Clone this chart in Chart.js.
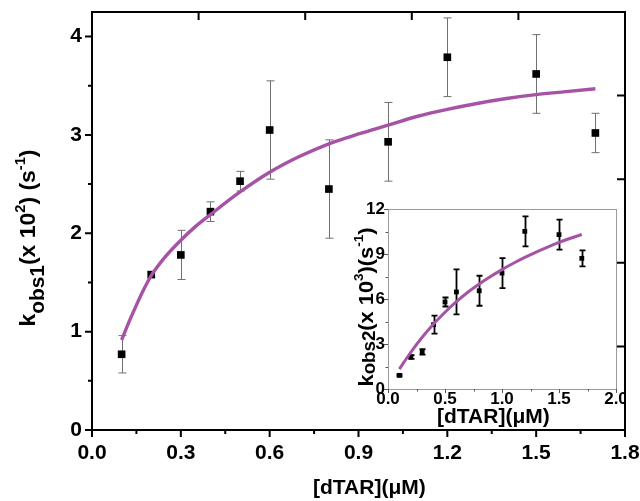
<!DOCTYPE html>
<html>
<head>
<meta charset="utf-8">
<script src="https://cdn.jsdelivr.net/npm/chart.js@4/dist/chart.umd.min.js"></script>
<style>
  html, body { margin: 0; padding: 0; background: #fff; }
  #wrap { position: relative; width: 640px; height: 501px; overflow: hidden; }
  #inset { position: absolute; left: 330px; top: 195px; z-index: 1; }
  #main { position: absolute; left: 0; top: 0; z-index: 2; }
</style>
</head>
<body>
<div id="wrap">
  <canvas id="inset" width="295" height="235"></canvas>
  <canvas id="main" width="640" height="501"></canvas>
</div>
<script>
// [dTAR] concentrations (µM)
const concentration = [0.1, 0.2, 0.3, 0.4, 0.5, 0.6, 0.8, 1.0, 1.2, 1.5, 1.7];

// k_obs1 (x 10^2 s^-1) with standard deviations
const kobs1    = [0.77, 1.58, 1.78, 2.22, 2.53, 3.05, 2.45, 2.93, 3.79, 3.62, 3.02];
const kobs1Err = [0.19, 0.03, 0.25, 0.10, 0.10, 0.50, 0.50, 0.40, 0.40, 0.40, 0.20];

// hyperbolic fit through k_obs1
const fit1X = [0.1, 0.125, 0.15, 0.175, 0.2, 0.25, 0.3, 0.35, 0.4, 0.5, 0.6, 0.7, 0.8, 0.9, 1.0, 1.1, 1.2, 1.3, 1.4, 1.5, 1.6, 1.7];
const fit1Y = [0.915, 1.10, 1.27, 1.43, 1.57, 1.77, 1.93, 2.07, 2.19, 2.42, 2.62, 2.78, 2.91, 3.01, 3.10, 3.19, 3.26, 3.32, 3.37, 3.41, 3.44, 3.47];

// k_obs2 (x 10^3 s^-1) with standard deviations
const kobs2    = [0.91, 2.13, 2.47, 4.29, 5.80, 6.47, 6.55, 7.73, 10.51, 10.29, 8.71];
const kobs2Err = [0.06, 0.12, 0.18, 0.60, 0.30, 1.50, 1.00, 1.00, 1.00, 1.00, 0.53];

// hyperbolic fit through k_obs2
const fit2X = [0.1, 0.2, 0.3, 0.4, 0.5, 0.6, 0.7, 0.8, 0.9, 1.0, 1.1, 1.2, 1.3, 1.4, 1.5, 1.6, 1.7];
const fit2Y = [1.33, 2.45, 3.45, 4.33, 5.12, 5.82, 6.45, 7.00, 7.50, 7.96, 8.38, 8.77, 9.13, 9.46, 9.77, 10.05, 10.30];

// axis ticks
const mainXTicks  = [0, 0.3, 0.6, 0.9, 1.2, 1.5, 1.8];
const mainXMinor  = [0.15, 0.45, 0.75, 1.05, 1.35, 1.65];
const mainYTicks  = [0, 1, 2, 3, 4];
const mainYMinor  = [0.5, 1.5, 2.5, 3.5];
const mainTopTicks   = [0.36, 0.72, 1.08, 1.44];
const mainRightTicks = [0.85, 1.7, 2.55, 3.4];
const insetXTicks = [0, 0.5, 1.0, 1.5, 2.0];
const insetXMinor = [0.25, 0.75, 1.25, 1.75];
const insetYTicks = [0, 3, 6, 9, 12];
const insetYMinor = [1.5, 4.5, 7.5, 10.5];

const FIT_COLOR = '#a653a6';
const FONT = '"Liberation Sans", Arial, Helvetica, sans-serif';
Chart.defaults.font.family = FONT;

function pts(xs, ys) { return xs.map((x, i) => ({ x: x, y: ys[i] })); }

function drawErrorBars(chart, ys, errs, style) {
  const ctx = chart.ctx, xs = chart.scales.x, yS = chart.scales.y;
  ctx.save();
  ctx.strokeStyle = style.color;
  ctx.lineWidth = style.width;
  concentration.forEach((c, i) => {
    const px = Math.round(xs.getPixelForValue(c)) + 0.5;
    const top = yS.getPixelForValue(ys[i] + errs[i]);
    const bot = yS.getPixelForValue(ys[i] - errs[i]);
    ctx.beginPath();
    ctx.moveTo(px, top); ctx.lineTo(px, bot);
    ctx.moveTo(px - style.cap, top); ctx.lineTo(px + style.cap, top);
    ctx.moveTo(px - style.cap, bot); ctx.lineTo(px + style.cap, bot);
    ctx.stroke();
  });
  ctx.restore();
}

// text run with sub/superscripts; parts: [text, size, baselineShift]
function drawRich(ctx, parts, x, y, rotate, targetLen, align) {
  ctx.save();
  let total = 0;
  const widths = parts.map(p => {
    ctx.font = 'bold ' + p[1] + 'px ' + FONT;
    const w = ctx.measureText(p[0]).width;
    total += w;
    return w;
  });
  const stretch = targetLen ? targetLen / total : 1;
  ctx.translate(x, y);
  if (rotate) ctx.rotate(-Math.PI / 2);
  ctx.scale(stretch, 1);
  ctx.fillStyle = '#000';
  ctx.textBaseline = 'alphabetic';
  ctx.textAlign = 'left';
  let cur = align === 'left' ? 0 : -total / 2;
  parts.forEach((p, i) => {
    ctx.font = 'bold ' + p[1] + 'px ' + FONT;
    ctx.fillText(p[0], cur, p[2]);
    cur += widths[i];
  });
  ctx.restore();
}

function tickLine(ctx, x1, y1, x2, y2) {
  ctx.moveTo(x1, y1); ctx.lineTo(x2, y2);
}

const mainDecor = {
  id: 'mainDecor',
  beforeDatasetsDraw(chart) {
    drawErrorBars(chart, kobs1, kobs1Err, { color: '#707070', width: 1, cap: 4 });
  },
  afterDraw(chart) {
    const ctx = chart.ctx, a = chart.chartArea, xs = chart.scales.x, ys = chart.scales.y;
    ctx.save();
    ctx.strokeStyle = '#000';
    ctx.lineWidth = 2;
    ctx.strokeRect(a.left, a.top, a.right - a.left, a.bottom - a.top);
    ctx.beginPath();
    mainXTicks.forEach(v => { const p = xs.getPixelForValue(v); tickLine(ctx, p, a.bottom, p, a.bottom + 7); });
    mainXMinor.forEach(v => { const p = xs.getPixelForValue(v); tickLine(ctx, p, a.bottom, p, a.bottom + 4); });
    mainYTicks.forEach(v => { const p = ys.getPixelForValue(v); tickLine(ctx, a.left, p, a.left - 7, p); });
    mainYMinor.forEach(v => { const p = ys.getPixelForValue(v); tickLine(ctx, a.left, p, a.left - 4, p); });
    mainTopTicks.forEach(v => { const p = xs.getPixelForValue(v); tickLine(ctx, p, a.top, p, a.top + 8); });
    mainRightTicks.forEach(v => { const p = ys.getPixelForValue(v); tickLine(ctx, a.right, p, a.right - 8, p); });
    ctx.stroke();
    ctx.restore();

    // axis titles
    drawRich(ctx, [['k', 22, 0], ['obs1', 20, 9], ['(x 10', 22, 0], ['2', 14, -10], [') (s', 22, 0], ['-1', 14, -10], [')', 22, 0]],
      35, 238, true, 177);
    drawRich(ctx, [['[dTAR](\u03bcM)', 21, 0]], 313, 494, false, 0, 'left');
  }
};

const insetDecor = {
  id: 'insetDecor',
  beforeDatasetsDraw(chart) {
    drawErrorBars(chart, kobs2, kobs2Err, { color: '#000', width: 1.8, cap: 3 });
  },
  afterDraw(chart) {
    const ctx = chart.ctx, a = chart.chartArea, xs = chart.scales.x, ys = chart.scales.y;
    ctx.save();
    ctx.strokeStyle = '#9a9a9a';
    ctx.lineWidth = 1;
    ctx.strokeRect(Math.round(a.left) + 0.5, Math.round(a.top) + 0.5, Math.round(a.right - a.left), Math.round(a.bottom - a.top));
    ctx.strokeStyle = '#555';
    ctx.beginPath();
    insetXTicks.forEach(v => { const p = Math.round(xs.getPixelForValue(v)) + 0.5; tickLine(ctx, p, a.bottom, p, a.bottom + 4); });
    insetXMinor.forEach(v => { const p = Math.round(xs.getPixelForValue(v)) + 0.5; tickLine(ctx, p, a.bottom, p, a.bottom + 2.5); });
    insetYTicks.forEach(v => { const p = Math.round(ys.getPixelForValue(v)) + 0.5; tickLine(ctx, a.left, p, a.left - 4, p); });
    insetYMinor.forEach(v => { const p = Math.round(ys.getPixelForValue(v)) + 0.5; tickLine(ctx, a.left, p, a.left - 2.5, p); });
    ctx.stroke();
    ctx.restore();

    drawRich(ctx, [['k', 21, 0], ['obs2', 18, 2], ['(x 10', 21, 0], ['3', 13, -10], [')(s', 21, 0], ['-1', 13, -10], [')', 21, 0]],
      43, 112, true, 159);
    drawRich(ctx, [['[dTAR](\u03bcM)', 21, 0]], 107, 228, false, 0, 'left');
  }
};

function fixedTicks(list) {
  return function (scale) { scale.ticks = list.map(v => ({ value: v })); };
}

// fixed axis box sizes; tick labels may overhang the plot edges
function fixedSize(prop, size) {
  return function (scale) {
    scale[prop] = size;
    scale.paddingTop = 0; scale.paddingBottom = 0;
    scale.paddingLeft = 0; scale.paddingRight = 0;
  };
}

new Chart(document.getElementById('main'), {
  type: 'scatter',
  data: {
    datasets: [
      {
        data: pts(fit1X, fit1Y),
        showLine: true,
        borderColor: FIT_COLOR,
        borderWidth: 3.4,
        pointRadius: 0,
        cubicInterpolationMode: 'monotone',
        fill: false
      },
      {
        data: pts(concentration, kobs1),
        pointStyle: 'rect',
        pointRadius: 5.4,
        pointBorderWidth: 0,
        backgroundColor: '#000',
        borderColor: '#000'
      }
    ]
  },
  options: {
    responsive: false,
    animation: false,
    devicePixelRatio: 1,
    layout: { padding: { left: 0, right: 15, top: 12, bottom: 0 } },
    plugins: { legend: { display: false }, tooltip: { enabled: false } },
    scales: {
      x: {
        type: 'linear', min: 0, max: 1.8,
        afterBuildTicks: fixedTicks(mainXTicks),
        afterFit: fixedSize('height', 71),
        grid: { display: false, drawTicks: false },
        border: { display: false },
        ticks: {
          color: '#000', padding: 11,
          font: { size: 21, weight: 'bold' },
          maxRotation: 0, autoSkip: false,
          callback: v => Number(v).toFixed(1)
        }
      },
      y: {
        type: 'linear', min: 0, max: 4.25,
        afterBuildTicks: fixedTicks(mainYTicks),
        afterFit: fixedSize('width', 92),
        grid: { display: false, drawTicks: false },
        border: { display: false },
        ticks: {
          color: '#000', padding: 10,
          font: { size: 21, weight: 'bold' },
          autoSkip: false,
          callback: v => String(Math.round(v))
        }
      }
    }
  },
  plugins: [mainDecor]
});

new Chart(document.getElementById('inset'), {
  type: 'scatter',
  data: {
    datasets: [
      {
        data: pts(fit2X, fit2Y),
        showLine: true,
        borderColor: FIT_COLOR,
        borderWidth: 3,
        pointRadius: 0,
        cubicInterpolationMode: 'monotone',
        fill: false
      },
      {
        data: pts(concentration, kobs2),
        pointStyle: 'rect',
        pointRadius: 3.4,
        pointBorderWidth: 0,
        backgroundColor: '#000',
        borderColor: '#000'
      }
    ]
  },
  options: {
    responsive: false,
    animation: false,
    devicePixelRatio: 1,
    layout: { padding: { left: 0, right: 9, top: 14, bottom: 0 } },
    plugins: { legend: { display: false }, tooltip: { enabled: false } },
    scales: {
      x: {
        type: 'linear', min: 0, max: 2,
        afterBuildTicks: fixedTicks(insetXTicks),
        afterFit: fixedSize('height', 41),
        grid: { display: false, drawTicks: false },
        border: { display: false },
        ticks: {
          color: '#000', padding: 0,
          font: { size: 17, weight: 'bold' },
          maxRotation: 0, autoSkip: false,
          callback: v => Number(v).toFixed(1)
        }
      },
      y: {
        type: 'linear', min: 0, max: 12,
        afterBuildTicks: fixedTicks(insetYTicks),
        afterFit: fixedSize('width', 58),
        grid: { display: false, drawTicks: false },
        border: { display: false },
        ticks: {
          color: '#000', padding: 3,
          font: { size: 17, weight: 'bold' },
          autoSkip: false,
          callback: v => String(Math.round(v))
        }
      }
    }
  },
  plugins: [insetDecor]
});
</script>
</body>
</html>
